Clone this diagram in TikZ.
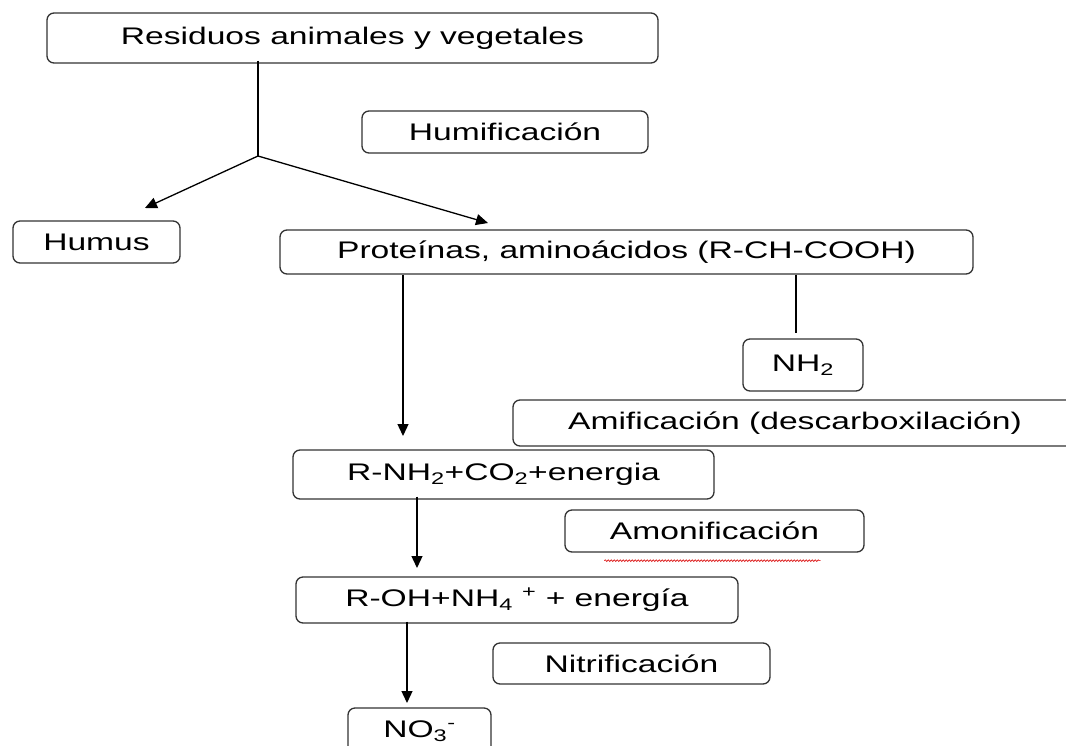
\documentclass[tikz,border=0pt]{standalone}
\usepackage{fontspec}
\setmainfont{Liberation Sans}[FakeStretch=1.4]
\usepackage{tikz}
\usetikzlibrary{arrows.meta,calc,decorations.pathmorphing}
\tikzstyle{every paso} = []
\tikzstyle{paso} = [rectangle, draw=black!80, line width=1.3pt, rounded corners=7pt,
	inner sep=0pt, font=\fontsize{24}{28}\selectfont,
	every paso]
\tikzstyle{flujo} = [draw, black, line width=1.3pt]
\tikzstyle{flecha} = [flujo, -{Triangle[length=12pt,width=11pt]}]
\tikzstyle{corrector} = [draw=red!85!black, line width=0.6pt,
	decorate, decoration={snake, amplitude=0.9pt, segment length=3pt}]
\newcommand{\sub}[1]{\textsubscript{#1}}
\newcommand{\sups}[1]{\textsuperscript{#1}}

\begin{document}
\begin{tikzpicture}[x=1pt, y=-1pt]
	\clip (0,0) rectangle (1066,745);
	\fill[white] (0,0) rectangle (1066,745);

	\node[paso, minimum width=611, minimum height=50] (residuos) at (352.5,38) {Residuos animales y vegetales};
	\node[paso, minimum width=286, minimum height=42] (humif) at (505,132) {Humificación};
	\node[paso, minimum width=167, minimum height=42] (humus) at (96.5,242) {Humus};
	\node[paso, minimum width=693, minimum height=44] (prot) at (626.5,252) {Proteínas, aminoácidos (R-CH-COOH)};
	\node[paso, minimum width=120, minimum height=52] (nhdos) at (803,365) {NH\sub{2}};
	\node[paso, minimum width=564, minimum height=46] (amif) at (795,423) {Amificación (descarboxilación)};
	\node[paso, minimum width=421, minimum height=49] (rnh) at (503.5,474.5) {R-NH\sub{2}+CO\sub{2}+energia};
	\node[paso, minimum width=299, minimum height=42] (amon) at (714.5,531) {Amonificación};
	\node[paso, minimum width=442, minimum height=46] (roh) at (517,600) {R-OH+NH\sub{4} \sups{+} + energía};
	\node[paso, minimum width=277, minimum height=41] (nitrif) at (631.5,663.5) {Nitrificación};
	\node[paso, minimum width=143, minimum height=46] (nitrato) at (419.5,731) {NO\sub{3}\sups{-}};

	% puntos de llegada
	\coordinate (split) at (258,156);
	\coordinate (humtip) at (145,208);
	\coordinate (prottip) at (488,223);
	\coordinate (rnhtip) at (403,436);
	\coordinate (nhtop) at (796,333);
	\coordinate (rohtip) at (417,568);
	\coordinate (nitratotip) at (407,703);

	\draw[flujo] ([yshift=3]split |- residuos.south) -- (split);
	\draw[flecha] (split) -- (humtip);
	\draw[flecha] (split) -- (prottip);
	\draw[flecha] (rnhtip |- prot.south) -- (rnhtip);
	\draw[flujo] (nhtop |- prot.south) -- (nhtop);
	\draw[flecha] ([yshift=3]rohtip |- rnh.south) -- (rohtip);
	\draw[flecha] ([yshift=2]nitratotip |- roh.south) -- (nitratotip);

	% subrayado del corrector
	\draw[corrector] ([xshift=40,yshift=-8]amon.south west) -- ([xshift=-44,yshift=-8]amon.south east);
\end{tikzpicture}
\end{document}
